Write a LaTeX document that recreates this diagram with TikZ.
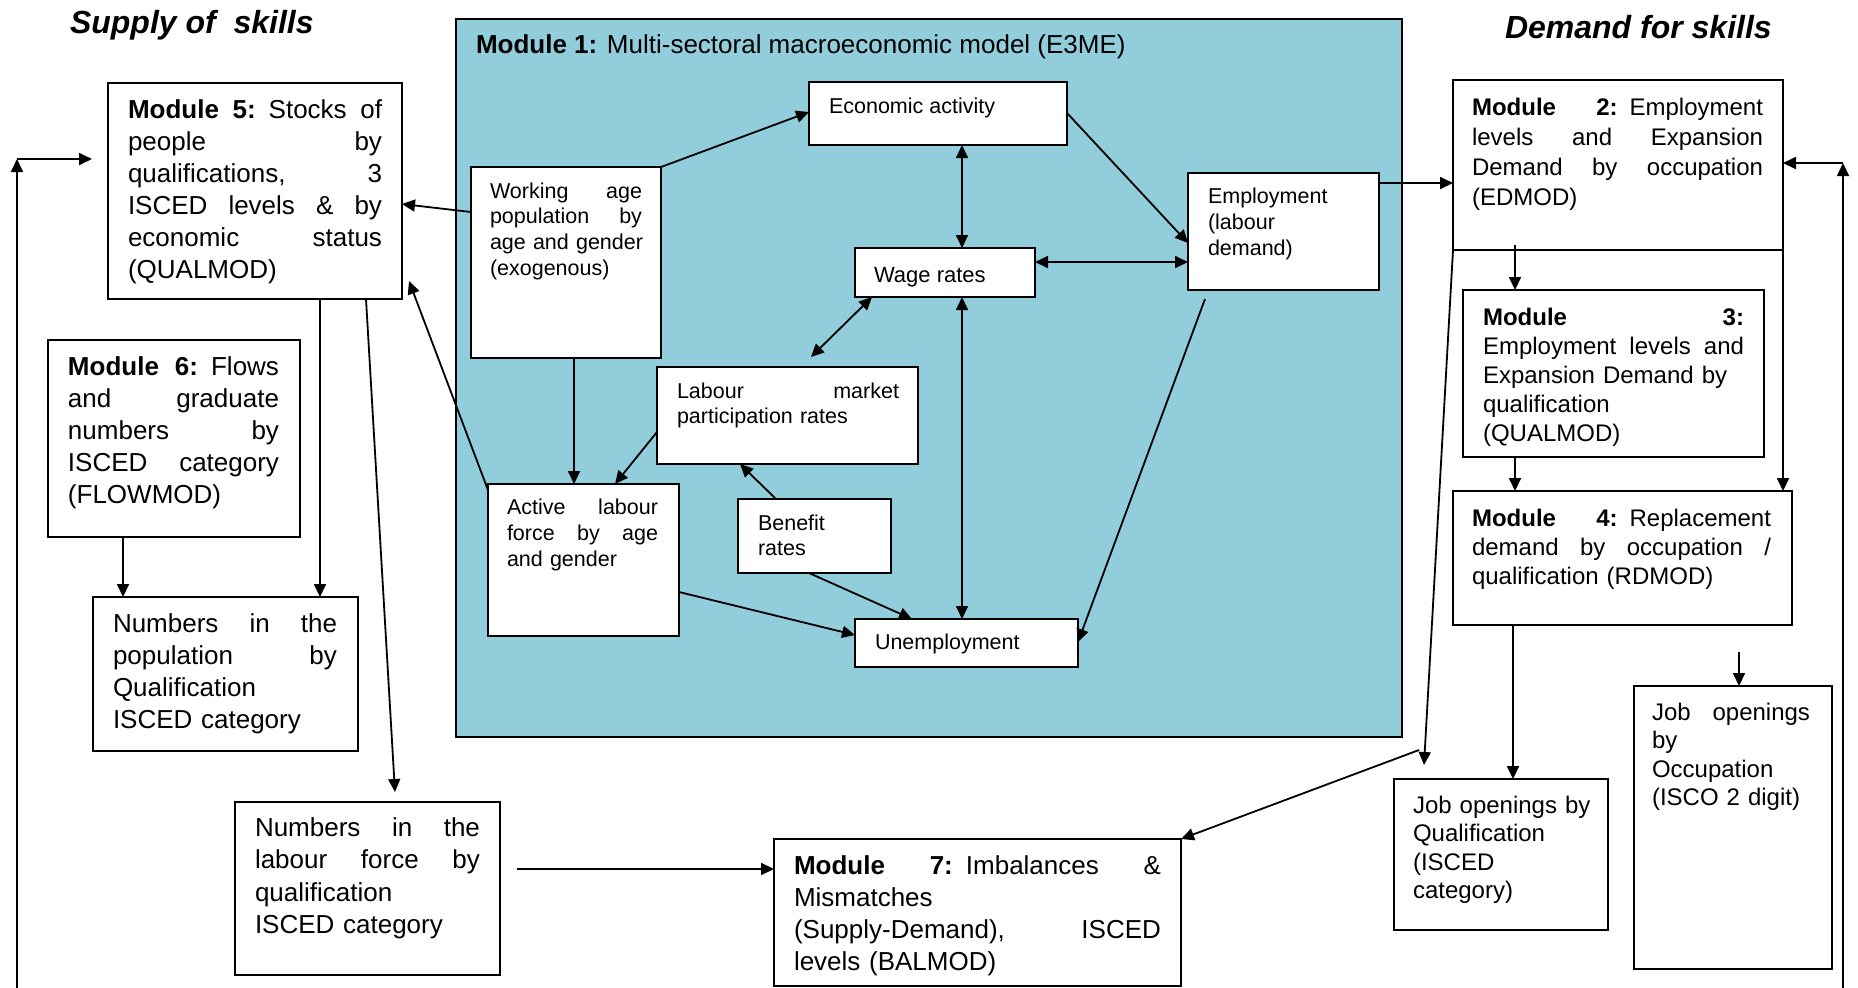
\documentclass[tikz,border=0pt]{standalone}
\usepackage{fontspec}
\setmainfont{Liberation Sans}
\usetikzlibrary{arrows.meta,calc}
\definecolor{monecol}{RGB}{146,205,220}
\newcommand\jl[1]{\leavevmode\hbox to \hsize{\spaceskip=0.3em plus 1fil\relax #1}}
\newcommand\nl[1]{\mbox{#1}}
\begin{document}
\begin{tikzpicture}[x=0.5pt,y=-0.5pt,
  bx/.style 2 args={draw, line width=1.1pt, fill=white, minimum width=#1*0.5pt, minimum height=#2*0.5pt, anchor=north west, inner sep=0pt, outer sep=0pt},
  tx/.style={anchor=base west, inner sep=0pt, outer sep=0pt, align=left, text width=#1*0.5pt},
  sx/.style={anchor=base west, inner sep=0pt, outer sep=0pt},
  fL/.style={font=\fontsize{13pt}{16pt}\selectfont},
  fR/.style={font=\fontsize{12pt}{14.5pt}\selectfont},
  fI/.style={font=\fontsize{10.75pt}{12.9pt}\selectfont},
  fT/.style={font=\fontsize{16pt}{19pt}\selectfont\bfseries\itshape},
  arr/.style={line width=0.9pt, -{Triangle[length=6.5pt,width=6pt]}},
  darr/.style={line width=0.9pt, {Triangle[length=6.5pt,width=6pt]}-{Triangle[length=6.5pt,width=6pt]}}
]
\useasboundingbox (0,0) rectangle (1858,987);

% titles
\node[sx, fT] (supply) at (70,33) {Supply of\ \ skills};
\node[sx, fT] (demand) at (1505,38) {Demand for skills};

% boxes
\node[bx={946}{718}, fill=monecol, line width=1.3pt] (mone) at (456,19) {};
\node[bx={258}{63}] (econ) at (809,82) {};
\node[bx={190}{191}] (work) at (471,167) {};
\node[bx={191}{117}] (emp) at (1188,173) {};
\node[bx={180}{49}] (wage) at (855,248) {};
\node[bx={261}{97}] (lmp) at (657,367) {};
\node[bx={191}{152}] (act) at (488,484) {};
\node[bx={153}{74}] (ben) at (738,499) {};
\node[bx={223}{48}] (unemp) at (855,619) {};
\node[bx={294}{216}] (mfive) at (108,83) {};
\node[bx={252}{197}] (msix) at (48,340) {};
\node[bx={265}{154}] (pop) at (93,597) {};
\node[bx={265}{173}] (nlf) at (235,802) {};
\node[bx={407}{147}] (mseven) at (774,839) {};
\node[bx={330}{170}] (mtwo) at (1453,80) {};
\node[bx={301}{167}] (mthree) at (1463,290) {};
\node[bx={339}{134}] (mfour) at (1453,491) {};
\node[bx={214}{151}] (jq) at (1394,779) {};
\node[bx={198}{283}] (jo) at (1634,686) {};

% texts
\node[sx, fL] (monet) at (476,53) {\textbf{Module 1:} Multi-sectoral macroeconomic model (E3ME)};
\node[sx, fI] (econt) at (829,113) {Economic activity};
\node[tx=152, fI] (workt) at (490,198) {\jl{Working age}\\\jl{population by}\\\nl{age and gender}\\\nl{(exogenous)}};
\node[sx, font=\fontsize{11pt}{13pt}\selectfont] (waget) at (874,282) {Wage rates};
\node[tx=160, font=\fontsize{10.75pt}{13pt}\selectfont] (empt) at (1208,203) {\nl{Employment}\\\nl{(labour}\\\nl{demand)}};
\node[tx=222, font=\fontsize{10.75pt}{12.5pt}\selectfont] (lmpt) at (677,398) {\jl{Labour market}\\\nl{participation rates}};
\node[tx=151, font=\fontsize{10.75pt}{13pt}\selectfont] (actt) at (507,514) {\jl{Active labour}\\\jl{force by age}\\\nl{and gender}};
\node[tx=120, font=\fontsize{10.75pt}{12.5pt}\selectfont] (bent) at (758,530) {\nl{Benefit}\\\nl{rates}};
\node[sx, fI] (unempt) at (875,649) {Unemployment};

\node[tx=254, fL] (mfivet) at (128,118) {\jl{\textbf{Module 5:} Stocks of}\\\jl{people by}\\\jl{qualifications, 3}\\\jl{ISCED levels \& by}\\\jl{economic status}\\\nl{(QUALMOD)}};
\node[tx=211, fL] (msixt) at (68,375) {\jl{\textbf{Module 6:} Flows}\\\jl{and graduate}\\\jl{numbers by}\\\jl{ISCED category}\\\nl{(FLOWMOD)}};
\node[tx=224, fL] (popt) at (113,632) {\jl{Numbers in the}\\\jl{population by}\\\nl{Qualification}\\\nl{ISCED category}};
\node[tx=225, font=\fontsize{13pt}{16.3pt}\selectfont] (nlft) at (255,836) {\jl{Numbers in the}\\\jl{labour force by}\\\nl{qualification}\\\nl{ISCED category}};
\node[tx=367, fL] (msevent) at (794,874) {\jl{\textbf{Module 7:} Imbalances \&}\\\nl{Mismatches}\\\jl{(Supply-Demand), ISCED}\\\nl{levels (BALMOD)}};
\node[tx=291, font=\fontsize{12pt}{15pt}\selectfont] (mtwot) at (1472,115) {\jl{\textbf{Module 2:} Employment}\\\jl{levels and Expansion}\\\jl{Demand by occupation}\\\nl{(EDMOD)}};
\node[tx=261, fR] (mthreet) at (1483,325) {\jl{\textbf{Module} \textbf{3:}}\\\jl{Employment levels and}\\\nl{Expansion Demand by}\\\nl{qualification}\\\nl{(QUALMOD)}};
\node[tx=299, fR] (mfourt) at (1472,526) {\jl{\textbf{Module 4:} Replacement}\\\jl{demand by occupation /}\\\nl{qualification (RDMOD)}};
\node[tx=190, font=\fontsize{12pt}{14.25pt}\selectfont] (jqt) at (1413,813) {\nl{Job openings by}\\\nl{Qualification}\\\nl{(ISCED}\\\nl{category)}};
\node[tx=158, font=\fontsize{12pt}{14.25pt}\selectfont] (jot) at (1652,720) {\jl{Job openings}\\\nl{by}\\\nl{Occupation}\\\nl{(ISCO 2 digit)}};

% left side connectors
\coordinate (lbot) at (17,990);
\coordinate (ltop) at (17,159);
\coordinate (lend) at (92,159);
\draw[arr] (lbot) -- (ltop);
\draw[arr] (ltop) -- (lend);
\draw[arr] ($(work.north west)+(0,45)$) -- ($(mfive.north east)+(0,121)$);
\coordinate (mfivein) at (409,281);
\draw[arr] ($(act.north west)+(0,6)$) -- (mfivein);
\draw[arr] ($(mfive.south west)+(212,0)$) coordinate (pa) -- (pa |- pop.north);
\coordinate (nlfin) at (395,792);
\draw[arr] ($(mfive.south west)+(258,0)$) -- (nlfin);
\draw[arr] ($(msix.south west)+(75,0)$) coordinate (pb) -- (pb |- pop.north);
\draw[arr] ($(nlf.north east)+(17,67)$) coordinate (pc) -- (pc -| mseven.west);

% module 1 connectors
\draw[arr] (work.north east) -- ($(econ.north west)+(0,30)$);
\draw[darr] ($(econ.south west)+(153,0)$) coordinate (pd) -- (pd |- wage.north);
\draw[arr] ($(econ.north east)+(0,31)$) -- ($(emp.north west)+(0,70)$);
\draw[darr] ($(wage.north east)+(0,14)$) coordinate (pe) -- (pe -| emp.west);
\draw[darr] ($(wage.south west)+(17,0)$) -- ($(lmp.north west)+(154,-10)$);
\draw[darr] ($(wage.south west)+(107,0)$) coordinate (pf) -- (pf |- unemp.north);
\draw[arr] ($(emp.south west)+(17,9)$) -- ($(unemp.north east)+(0,23)$);
\draw[arr] ($(work.south west)+(103,0)$) coordinate (pg) -- (pg |- act.north);
\draw[arr] ($(lmp.north west)+(0,65)$) -- ($(act.north west)+(127,0)$);
\draw[arr] ($(ben.north west)+(38,0)$) -- ($(lmp.south west)+(83,0)$);
\draw[arr] ($(ben.south west)+(71,0)$) -- ($(unemp.north west)+(57,0)$);
\draw[arr] ($(act.north east)+(0,108)$) -- ($(unemp.north west)+(0,16)$);

% right side connectors
\draw[arr] ($(emp.north east)+(0,10)$) coordinate (ph) -- (ph -| mtwo.west);
\coordinate (rbot) at (1843,990);
\coordinate (rtop) at (1843,163);
\draw[arr] (rbot) -- (rtop);
\draw[arr] (rtop) -- (rtop -| mtwo.east);
\draw[arr] ($(mtwo.south west)+(62,-5)$) coordinate (pi) -- (pi |- mthree.north);
\draw[arr] (mtwo.south east) coordinate (pj) -- (pj |- mfour.north);
\draw[arr] ($(mthree.south west)+(52,0)$) coordinate (pk) -- (pk |- mfour.north);
\coordinate (done) at (1424,765);
\coordinate (dtwo) at (1419,750);
\draw[arr] (mtwo.south west) -- (done);
\draw[arr] (dtwo) -- (mseven.north east);
\draw[arr] ($(mfour.south west)+(60,0)$) coordinate (pl) -- (pl |- jq.north);
\coordinate (jos) at (1739,652);
\draw[arr] (jos) -- (jos |- jo.north);
\end{tikzpicture}
\end{document}
